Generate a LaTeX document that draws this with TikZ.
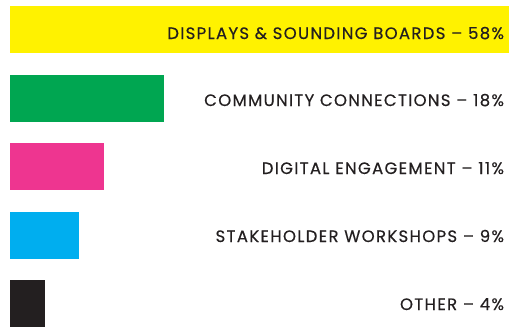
\documentclass[tikz,border=0pt]{standalone}
\usepackage{fontspec}
\setmainfont{Poppins}
\newfontfamily\sharefont{Poppins}[LetterSpace=8, FakeBold=0.4]
\definecolor{barYellow}{HTML}{FFF200}
\definecolor{barGreen}{HTML}{00A651}
\definecolor{barPink}{HTML}{EE3590}
\definecolor{barBlue}{HTML}{00AEEF}
\definecolor{barBlack}{HTML}{231F20}
\definecolor{labelGray}{HTML}{231F20}
\begin{document}
\begin{tikzpicture}[x=1pt, y=-1pt,
  every node/.style={inner sep=0pt, outer sep=0pt},
  bar/.style={rectangle, anchor=north west, minimum height=47pt},
  share/.style={anchor=base east, font={\sharefont\fontsize{16.5}{18}\selectfont}, text=labelGray}]
\useasboundingbox (0,0) rectangle (509,327);
\node[bar, fill=barYellow, minimum width=499pt] (displays) at (10,6) {};
\node[bar, fill=barGreen, minimum width=154pt] (community) at (10,75) {};
\node[bar, fill=barPink, minimum width=94pt] (digital) at (10,143) {};
\node[bar, fill=barBlue, minimum width=69pt] (workshops) at (10,212) {};
\node[bar, fill=barBlack, minimum width=35pt] (other) at (10,280) {};
\node[share] (displays label) at (504,39) {DISPLAYS \& SOUNDING BOARDS – 58\%};
\node[share] (community label) at (504,106) {COMMUNITY CONNECTIONS – 18\%};
\node[share] (digital label) at (504,174) {DIGITAL ENGAGEMENT – 11\%};
\node[share] (workshops label) at (504,242) {STAKEHOLDER WORKSHOPS – 9\%};
\node[share] (other label) at (504,310) {OTHER – 4\%};
\end{tikzpicture}
\end{document}
